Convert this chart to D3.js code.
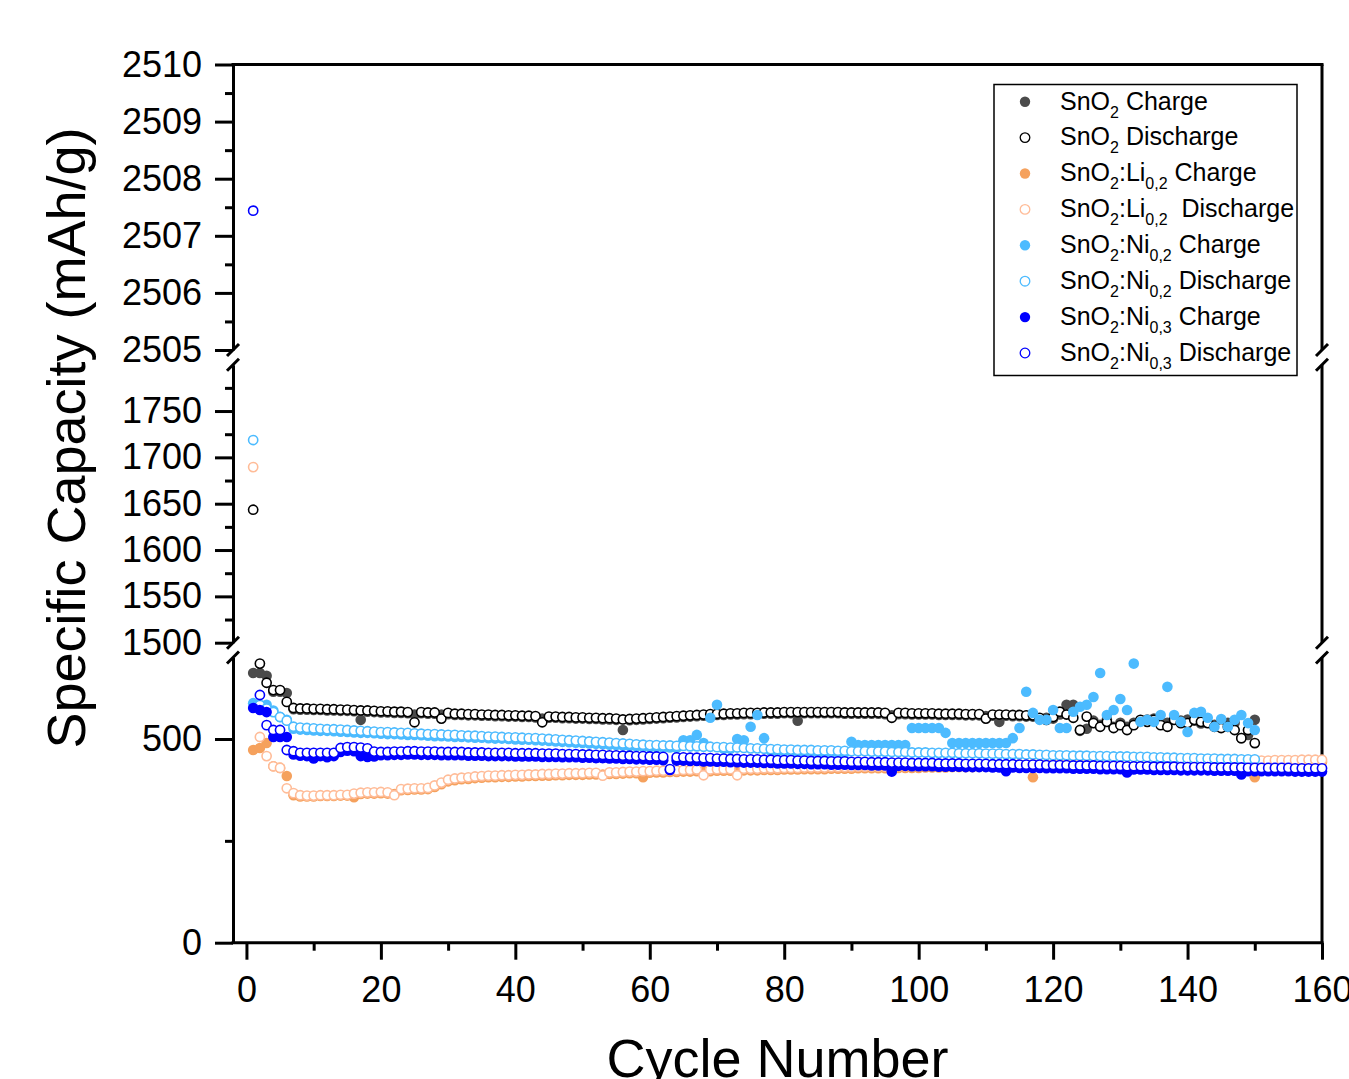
<!DOCTYPE html>
<html>
<head>
<meta charset="utf-8">
<script src="https://cdn.jsdelivr.net/npm/d3@7"></script>
<style>
  html, body { margin: 0; padding: 0; background: #fff; }
  svg { display: block; font-family: Arial, "Liberation Sans", Helvetica, sans-serif; }
</style>
</head>
<body>
<svg id="chart" width="1349" height="1079"></svg>
<script>
// ---- Specific capacity per cycle (mAh/g); entry i is cycle i+1 ----
const sno2Charge = [
  662, 662, 655, 616, 616, 613, 573, 572, 572, 571,
  571, 570, 570, 569, 569, 568, 547, 567, 566, 565,
  565, 564, 564, 563, 560, 563, 562, 562, 560, 561,
  559, 559, 558, 558, 557, 557, 556, 556, 555, 555,
  554, 554, 553, 550, 552, 552, 551, 551, 550, 550,
  549, 549, 548, 548, 547, 522, 546, 547, 548, 549,
  550, 551, 552, 553, 554, 555, 556, 557, 558, 559,
  559, 560, 560, 561, 561, 561, 562, 562, 562, 563,
  563, 545, 563, 563, 563, 563, 563, 563, 562, 562,
  562, 562, 562, 562, 561, 558, 561, 561, 560, 560,
  560, 560, 559, 559, 559, 559, 558, 558, 558, 556,
  557, 542, 557, 556, 556, 555, 555, 550, 552, 550,
  560, 584, 584, 520, 525, 545, 535, 548, 530, 540,
  530, 540, 545, 548, 550, 545, 540, 550, 545, 548,
  545, 538, 540, 535, 530, 540, 540, 502, 510, 547
];
const sno2Discharge = [
  1643.5, 685, 638, 620, 620, 591, 576, 575, 575, 574,
  574, 573, 573, 572, 572, 571, 570, 570, 569, 568,
  568, 567, 567, 566, 541, 566, 565, 565, 550, 564,
  562, 562, 561, 561, 560, 560, 559, 559, 558, 558,
  557, 557, 556, 541, 555, 555, 554, 554, 553, 553,
  552, 552, 551, 551, 550, 548, 549, 550, 551, 552,
  553, 554, 555, 556, 557, 558, 559, 560, 561, 562,
  562, 563, 563, 564, 564, 564, 565, 565, 565, 566,
  566, 566, 566, 566, 566, 566, 566, 566, 565, 565,
  565, 565, 565, 565, 564, 552, 564, 564, 563, 563,
  563, 563, 562, 562, 562, 562, 561, 561, 561, 550,
  560, 560, 560, 559, 559, 558, 558, 552, 547, 554,
  567, 560, 552, 522, 555, 539, 530, 542, 527, 534,
  522, 534, 547, 542, 547, 534, 530, 547, 539, 539,
  547, 542, 539, 530, 527, 530, 522, 502, 522, 490
];
const li02Charge = [
  473, 478, 490, 433, 429, 409, 362, 359, 359, 359,
  360, 360, 360, 361, 361, 357, 365, 366, 366, 367,
  366, 365, 374, 375, 376, 376, 377, 382, 389, 396,
  399, 401, 402, 404, 405, 406, 406, 407, 407, 408,
  408, 409, 409, 410, 410, 411, 411, 412, 412, 412,
  413, 413, 413, 414, 414, 415, 416, 416, 406, 417,
  418, 418, 419, 419, 420, 420, 421, 421, 421, 422,
  422, 422, 423, 423, 423, 423, 424, 424, 424, 425,
  425, 425, 426, 426, 426, 426, 427, 427, 427, 427,
  428, 428, 428, 428, 428, 429, 429, 429, 429, 429,
  430, 430, 430, 430, 431, 431, 431, 431, 432, 432,
  432, 432, 432, 432, 433, 433, 406, 433, 434, 434,
  434, 434, 435, 435, 435, 435, 436, 436, 436, 436,
  437, 437, 437, 437, 438, 438, 438, 438, 439, 439,
  439, 439, 440, 440, 440, 440, 441, 441, 441, 406,
  441, 442, 442, 442, 442, 443, 443, 443, 443, 444
];
const li02Discharge = [
  1689.5, 505, 458, 433, 429, 379, 367, 362, 361, 361,
  362, 362, 362, 363, 363, 366, 368, 369, 369, 370,
  369, 362, 377, 378, 379, 379, 380, 386, 393, 400,
  403, 405, 406, 408, 409, 410, 410, 411, 411, 412,
  412, 413, 413, 414, 414, 415, 415, 416, 416, 416,
  417, 417, 410, 418, 418, 419, 420, 420, 421, 421,
  422, 422, 423, 423, 424, 424, 425, 411, 425, 426,
  426, 426, 411, 427, 427, 427, 428, 428, 428, 429,
  429, 429, 430, 430, 430, 430, 431, 431, 431, 431,
  432, 432, 432, 432, 432, 433, 433, 433, 433, 433,
  434, 434, 434, 434, 435, 435, 435, 435, 436, 436,
  436, 436, 437, 437, 437, 437, 438, 438, 438, 438,
  439, 439, 439, 440, 440, 440, 440, 441, 441, 441,
  442, 442, 442, 443, 443, 443, 444, 444, 444, 444,
  445, 445, 445, 445, 446, 446, 446, 446, 447, 447,
  447, 447, 448, 448, 448, 448, 449, 449, 449, 449
];
const ni02Charge = [
  588, 584, 584, 570, 554, 547, 525, 523, 522, 521,
  520, 520, 519, 518, 517, 516, 515, 515, 514, 513,
  512, 512, 511, 510, 510, 509, 508, 507, 507, 506,
  505, 505, 504, 503, 503, 502, 501, 501, 500, 499,
  498, 498, 497, 496, 495, 494, 493, 492, 491, 490,
  489, 488, 487, 486, 485, 484, 483, 482, 481, 480,
  480, 479, 479, 478, 497, 497, 510, 490, 552, 584,
  476, 476, 500, 497, 530, 559, 502, 471, 470, 470,
  469, 469, 468, 468, 467, 467, 467, 466, 466, 493,
  485, 485, 485, 485, 485, 485, 485, 485, 527, 527,
  527, 527, 527, 515, 490, 490, 490, 490, 490, 490,
  490, 490, 490, 502, 527, 616, 564, 547, 547, 571,
  527, 527, 567, 579, 584, 603, 662, 559, 571, 598,
  571, 685, 542, 547, 542, 559, 628, 559, 542, 517,
  564, 567, 552, 530, 549, 530, 547, 559, 539, 522
];
const ni02Discharge = [
  1718.7, 583, 575, 566, 554, 545, 530, 528, 527, 526,
  525, 524, 524, 523, 522, 521, 520, 519, 518, 517,
  517, 516, 515, 515, 514, 513, 512, 512, 511, 510,
  510, 509, 508, 508, 507, 506, 506, 505, 504, 504,
  503, 502, 502, 501, 500, 499, 498, 497, 496, 495,
  494, 493, 492, 491, 490, 489, 488, 487, 486, 485,
  485, 484, 484, 483, 483, 482, 482, 481, 481, 480,
  480, 479, 479, 478, 477, 477, 476, 475, 475, 474,
  474, 473, 473, 473, 472, 472, 472, 471, 471, 470,
  470, 470, 469, 469, 469, 468, 468, 468, 467, 467,
  467, 466, 466, 466, 466, 465, 465, 465, 465, 464,
  464, 464, 463, 463, 463, 462, 462, 461, 461, 460,
  460, 460, 459, 459, 459, 458, 458, 458, 457, 457,
  457, 456, 456, 456, 455, 455, 454, 454, 453, 453,
  453, 452, 452, 452, 451, 451, 451, 450, 450, 450
];
const ni03Charge = [
  576, 571, 566, 505, 505, 505, 462, 459, 458, 452,
  458, 455, 458, 468, 471, 470, 458, 456, 457, 460,
  460, 461, 461, 462, 462, 461, 461, 461, 460, 460,
  460, 460, 459, 459, 459, 458, 458, 458, 458, 457,
  457, 457, 457, 456, 456, 456, 455, 455, 455, 454,
  454, 453, 453, 452, 452, 451, 451, 450, 450, 449,
  449, 448, 424, 447, 447, 446, 446, 445, 445, 444,
  444, 443, 443, 442, 442, 442, 441, 441, 440, 440,
  440, 439, 439, 438, 438, 438, 437, 437, 437, 436,
  436, 436, 435, 435, 435, 420, 434, 434, 433, 433,
  433, 433, 432, 432, 432, 432, 431, 431, 431, 431,
  430, 430, 421, 430, 429, 429, 429, 429, 428, 428,
  428, 428, 427, 427, 427, 427, 426, 426, 426, 426,
  418, 425, 425, 425, 424, 424, 424, 424, 423, 423,
  423, 423, 423, 422, 422, 422, 422, 413, 421, 421,
  421, 421, 421, 421, 421, 420, 420, 420, 420, 420
];
const ni03Discharge = [
  2507.44, 608, 534, 522, 522, 473, 470, 466, 466, 466,
  466, 466, 466, 478, 480, 480, 479, 477, 469, 468,
  468, 469, 469, 470, 470, 469, 469, 469, 468, 468,
  468, 468, 467, 467, 467, 466, 466, 466, 466, 465,
  465, 465, 465, 464, 464, 464, 463, 463, 463, 462,
  462, 461, 461, 460, 460, 459, 459, 458, 458, 457,
  457, 456, 426, 455, 455, 454, 454, 453, 453, 452,
  452, 451, 451, 450, 450, 450, 449, 449, 448, 448,
  448, 447, 447, 446, 446, 446, 445, 445, 445, 444,
  444, 444, 443, 443, 443, 442, 442, 442, 441, 441,
  441, 441, 440, 440, 440, 440, 439, 439, 439, 439,
  438, 438, 438, 438, 437, 437, 437, 437, 436, 436,
  436, 436, 435, 435, 435, 435, 434, 434, 434, 434,
  433, 433, 433, 433, 432, 432, 432, 432, 431, 431,
  431, 431, 431, 430, 430, 430, 430, 430, 429, 429,
  429, 429, 429, 429, 429, 428, 428, 428, 428, 428
];

// ---- Tick values ----
const xTicks = [0, 20, 40, 60, 80, 100, 120, 140, 160];
const xMinorTicks = [10, 30, 50, 70, 90, 110, 130, 150];
const topTicks = [2505, 2506, 2507, 2508, 2509, 2510];
const topMinorTicks = [2505.5, 2506.5, 2507.5, 2508.5, 2509.5];
const midTicks = [1500, 1550, 1600, 1650, 1700, 1750];
const midMinorTicks = [1525, 1575, 1625, 1675, 1725, 1775];
const lowTicks = [0, 500];
const lowMinorTicks = [250];

// ---- Series (drawn in legend order) ----
const series = [
  { label: [["SnO"], ["2", 1], [" Charge"]], values: sno2Charge, filled: true, color: "#4b4b4b" },
  { label: [["SnO"], ["2", 1], [" Discharge"]], values: sno2Discharge, filled: false, color: "#000000" },
  { label: [["SnO"], ["2", 1], [":Li"], ["0,2", 1], [" Charge"]], values: li02Charge, filled: true, color: "#f5a15d" },
  { label: [["SnO"], ["2", 1], [":Li"], ["0,2", 1], ["  Discharge"]], values: li02Discharge, filled: false, color: "#ffbc98" },
  { label: [["SnO"], ["2", 1], [":Ni"], ["0,2", 1], [" Charge"]], values: ni02Charge, filled: true, color: "#4cbbff" },
  { label: [["SnO"], ["2", 1], [":Ni"], ["0,2", 1], [" Discharge"]], values: ni02Discharge, filled: false, color: "#4cbbff" },
  { label: [["SnO"], ["2", 1], [":Ni"], ["0,3", 1], [" Charge"]], values: ni03Charge, filled: true, color: "#0000ff" },
  { label: [["SnO"], ["2", 1], [":Ni"], ["0,3", 1], [" Discharge"]], values: ni03Discharge, filled: false, color: "#0000ff" }
];

// ---- Layout ----
const X0 = 233, X1 = 1322;
const svg = d3.select("#chart");

const x = d3.scaleLinear().domain([-2, 160]).range([X0, X1]);
// Broken y axis: three stacked panels
const yTop = d3.scaleLinear().domain([2505, 2510]).range([350, 64.5]);
const yMid = d3.scaleLinear().domain([1500, 1800]).range([642.7, 364.7]);
const yLow = d3.scaleLinear().domain([0, 700]).range([942.7, 657.5]);
function yPos(v) {
  if (v >= 2505) return yTop(v);
  if (v >= 1500) return yMid(v);
  return yLow(v);
}

const AXIS_W = 3;
const FONT = 'Arial, "Liberation Sans", Helvetica, sans-serif';

function styleAxis(g) {
  g.attr("font-size", 36).attr("font-family", FONT);
  g.selectAll("line").attr("stroke", "#000").attr("stroke-width", AXIS_W);
  g.selectAll("path.domain").attr("stroke", "#000").attr("stroke-width", AXIS_W);
  g.selectAll("text").attr("fill", "#000");
}

function drawYPanel(scale, major, minor) {
  const g = svg.append("g").attr("transform", `translate(${X0},0)`);
  g.call(d3.axisLeft(scale).tickValues(major).tickSize(18).tickPadding(13)
    .tickSizeOuter(0).tickFormat(d3.format("d")));
  styleAxis(g);
  const gm = svg.append("g").attr("transform", `translate(${X0},0)`);
  gm.call(d3.axisLeft(scale).tickValues(minor).tickSize(8).tickSizeOuter(0).tickFormat(""));
  styleAxis(gm);
  gm.select("path.domain").remove();
  // right-hand frame segment
  const [r0, r1] = scale.range();
  svg.append("line").attr("x1", X1).attr("x2", X1).attr("y1", r0).attr("y2", r1)
    .attr("stroke", "#000").attr("stroke-width", AXIS_W);
}

drawYPanel(yTop, topTicks, topMinorTicks);
drawYPanel(yMid, midTicks, midMinorTicks);
drawYPanel(yLow, lowTicks, lowMinorTicks);

// top frame line
svg.append("line").attr("x1", X0 - 1.5).attr("x2", X1 + 1.5)
  .attr("y1", yTop(2510)).attr("y2", yTop(2510))
  .attr("stroke", "#000").attr("stroke-width", AXIS_W);

// axis break marks on both sides
const breakYs = [yTop(2505), yMid(1800), yMid(1500), yLow(700)];
[X0, X1].forEach(bx => {
  breakYs.forEach(by => {
    svg.append("line")
      .attr("x1", bx - 6).attr("y1", by + 6)
      .attr("x2", bx + 6).attr("y2", by - 6)
      .attr("stroke", "#000").attr("stroke-width", AXIS_W);
  });
});

// x axis
const gx = svg.append("g").attr("transform", `translate(0,${yLow(0)})`);
gx.call(d3.axisBottom(x).tickValues(xTicks).tickSize(17).tickPadding(17)
  .tickSizeOuter(0).tickFormat(d3.format("d")));
styleAxis(gx);
gx.select("path.domain").attr("d", `M${X0 - 1.5},0H${X1 + 1.5}`);
const gxm = svg.append("g").attr("transform", `translate(0,${yLow(0)})`);
gxm.call(d3.axisBottom(x).tickValues(xMinorTicks).tickSize(8).tickSizeOuter(0).tickFormat(""));
styleAxis(gxm);
gxm.select("path.domain").remove();

// axis titles
svg.append("text")
  .attr("x", (X0 + X1) / 2).attr("y", 1077)
  .attr("text-anchor", "middle")
  .attr("font-family", FONT).attr("font-size", 54)
  .text("Cycle Number");
svg.append("text")
  .attr("transform", "translate(85,438) rotate(-90)")
  .attr("text-anchor", "middle")
  .attr("font-family", FONT).attr("font-size", 54)
  .text("Specific Capacity (mAh/g)");

// data points
const R_FILL = 5.3, R_OPEN = 4.6, OPEN_W = 1.6;
const plot = svg.append("g");
series.forEach(s => {
  const pts = s.values.map((v, i) => ({ c: i + 1, v }));
  plot.append("g").selectAll("circle").data(pts).join("circle")
    .attr("cx", d => x(d.c))
    .attr("cy", d => yPos(d.v))
    .attr("r", s.filled ? R_FILL : R_OPEN)
    .attr("fill", s.filled ? s.color : "#fff")
    .attr("stroke", s.filled ? "none" : s.color)
    .attr("stroke-width", s.filled ? 0 : OPEN_W);
});

// legend
const LX = 994, LY = 84.5, LW = 303, LH = 291;
svg.append("rect").attr("x", LX).attr("y", LY).attr("width", LW).attr("height", LH)
  .attr("fill", "#fff").attr("stroke", "#000").attr("stroke-width", 1.5);
series.forEach((s, i) => {
  const cy = 101.7 + i * 35.9;
  svg.append("circle").attr("cx", 1025).attr("cy", cy)
    .attr("r", s.filled ? 5.2 : 4.8)
    .attr("fill", s.filled ? s.color : "#fff")
    .attr("stroke", s.filled ? "none" : s.color)
    .attr("stroke-width", s.filled ? 0 : 1.3);
  const t = svg.append("text").attr("x", 1060).attr("y", cy + 7.8)
    .attr("font-family", FONT).attr("font-size", 25)
    .attr("xml:space", "preserve").style("white-space", "pre");
  let shifted = false;
  s.label.forEach(([str, sub]) => {
    const sp = t.append("tspan").text(str);
    if (sub) { sp.attr("font-size", 16).attr("dy", shifted ? 0 : 8); shifted = true; }
    else if (shifted) { sp.attr("dy", -8); shifted = false; }
  });
});
</script>
</body>
</html>
